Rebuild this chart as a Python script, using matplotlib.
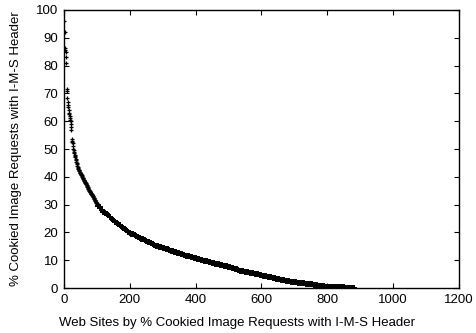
import numpy as np
import matplotlib
matplotlib.use('Agg')
import matplotlib.pyplot as plt

plt.rcParams['font.family'] = ['Liberation Sans', 'DejaVu Sans']

# per-site values for the first 100 sites (rank 1..100)
head_pct = [
    96, 92, 86.5, 85.5, 85, 83, 81, 71.5, 71, 68.5,
    67, 66, 65, 64, 63, 62.5, 62, 61, 60.5, 60,
    59, 58, 57, 53.5, 53, 52.5, 52, 51, 50, 49.5,
    49, 48.5, 48, 47.5, 47, 46.5, 46, 45.5, 45, 44.5,
    44, 43.5, 43.2, 42.9, 42.6, 42.3, 42, 41.8, 41.5, 41.3,
    41.1, 40.9, 40.7, 40.5, 40.2, 40, 39.7, 39.5, 39.2, 39,
    38.7, 38.5, 38.3, 38.1, 37.9, 37.7, 37.5, 37.3, 37.0, 36.8,
    36.5, 36.3, 36.0, 35.7, 35.4, 35.2, 35.0, 34.8, 34.6, 34.4,
    34.2, 34.0, 33.8, 33.7, 33.5, 33.3, 33.2, 33.0, 32.8, 32.5,
    32.3, 32.1, 31.8, 31.6, 31.4, 31.1, 30.9, 30.7, 30.5, 30.3,
]

# remaining sites, read every 5th rank from 105 to 880
tail_start = 105
tail_step = 5
tail_pct = [
    29.6, 29.0, 28.2, 27.5, 27.0, 26.6, 26.2, 25.6, 25.0, 24.5,
    23.9, 23.4, 23.0, 22.5, 22.0, 21.5, 21.1, 20.7, 20.3, 19.9,
    19.6, 19.3, 19.0, 18.6, 18.3, 18.1, 17.8, 17.5, 17.2, 17.0,
    16.7, 16.4, 16.1, 15.8, 15.5, 15.2, 15.0, 14.8, 14.6, 14.4,
    14.3, 14.1, 13.9, 13.7, 13.5, 13.3, 13.1, 12.9, 12.7, 12.5,
    12.3, 12.1, 11.9, 11.7, 11.5, 11.4, 11.2, 11.0, 10.8, 10.7,
    10.6, 10.4, 10.2, 10.0, 9.9, 9.7, 9.6, 9.4, 9.3, 9.1,
    8.9, 8.8, 8.6, 8.5, 8.3, 8.2, 8.0, 7.9, 7.8, 7.7,
    7.5, 7.3, 7.1, 6.9, 6.7, 6.5, 6.3, 6.1, 6.0, 5.9,
    5.8, 5.6, 5.5, 5.4, 5.3, 5.2, 5.1, 5.0, 4.8, 4.7,
    4.5, 4.4, 4.2, 4.1, 3.9, 3.8, 3.6, 3.5, 3.4, 3.3,
    3.2, 3.0, 2.9, 2.8, 2.7, 2.6, 2.4, 2.3, 2.2, 2.1,
    2.0, 1.9, 1.8, 1.75, 1.7, 1.65, 1.6, 1.5, 1.45, 1.4,
    1.3, 1.2, 1.1, 1.0, 0.9, 0.8, 0.7, 0.6, 0.55, 0.5,
    0.45, 0.4, 0.38, 0.35, 0.32, 0.3, 0.27, 0.25, 0.22, 0.2,
    0.17, 0.15, 0.12, 0.1, 0.07, 0.05,
]

x_ticks = [0, 200, 400, 600, 800, 1000, 1200]
y_ticks = [0, 10, 20, 30, 40, 50, 60, 70, 80, 90, 100]

x_head = np.arange(1, len(head_pct) + 1)
x_tail = tail_start + tail_step * np.arange(len(tail_pct))

fig = plt.figure(figsize=(4.77, 3.33), dpi=100)
ax = fig.add_axes([0.134, 0.135, 0.828, 0.835])

# first sites: separate crosses
ax.plot(x_head, head_pct, linestyle='none', marker='+', color='black',
        markersize=3.5, markeredgewidth=0.9)
# dense part: crosses overlap into a thick band
ax.plot(x_tail, tail_pct, linestyle='none', marker='+', color='black',
        markersize=4.5, markeredgewidth=1.4)

ax.set_xlim(0, 1200)
ax.set_ylim(0, 100)
ax.set_xticks(x_ticks)
ax.set_yticks(y_ticks)
ax.tick_params(direction='in', length=3.5, width=0.8, labelsize=9.5,
               top=True, right=True, pad=4)
for s in ax.spines.values():
    s.set_linewidth(1.0)

ax.set_xlabel('Web Sites by % Cookied Image Requests with I-M-S Header',
              fontsize=9.5)
ax.set_ylabel('% Cookied Image Requests with I-M-S Header',
              fontsize=9.5)
# labels sit centred on the canvas, like the gnuplot original
ax.xaxis.set_label_coords(0.438, -0.104)
ax.yaxis.set_label_coords(-0.105, 0.5)

fig.savefig('out.png', dpi=100)
